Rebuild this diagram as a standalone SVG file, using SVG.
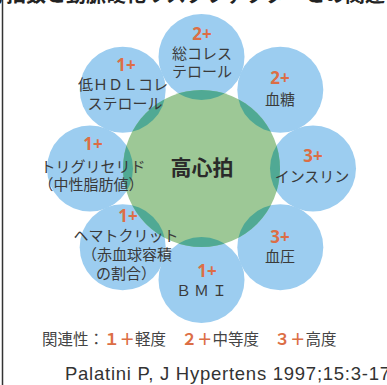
<svg xmlns="http://www.w3.org/2000/svg" width="387" height="385" viewBox="0 0 387 385">
<style>
.lbl{font-family:"Noto Sans CJK JP","Noto Sans",sans-serif;font-size:15px;fill:#3a3a3a;text-anchor:middle}
.num{font-family:"Noto Sans","Noto Sans CJK JP",sans-serif;font-size:17px;font-weight:bold;fill:#dc6e45;text-anchor:middle}
.blue{fill:#9ccdf0}
.teal{fill:#50a994}
.org{fill:#dc6e45;font-weight:bold}
</style>
<defs>
<clipPath id="cg"><circle cx="201.5" cy="168.5" r="78.5"/></clipPath>
</defs>
<rect x="0" y="0" width="387" height="385" fill="#ffffff"/>
<line x1="2.5" y1="0" x2="2.5" y2="385" stroke="#333" stroke-width="1.5"/>
<text x="385" y="2" font-family="Noto Sans CJK JP,sans-serif" font-size="20" font-weight="bold" fill="#222" text-anchor="end">心拍数と動脈硬化リスクファクターとの関連</text>

<g id="circles">
<circle class="blue" cx="201.5" cy="57" r="43"/>
<circle class="blue" cx="280.3" cy="89.7" r="43"/>
<circle class="blue" cx="313" cy="168.5" r="43"/>
<circle class="blue" cx="280.3" cy="247.3" r="43"/>
<circle class="blue" cx="201.5" cy="280" r="43"/>
<circle class="blue" cx="122.7" cy="247.3" r="43"/>
<circle class="blue" cx="90" cy="168.5" r="43"/>
<circle class="blue" cx="122.7" cy="89.7" r="43"/>
</g>
<g id="center">
<circle cx="201.5" cy="168.5" r="78.5" fill="#9dc896"/>
<g clip-path="url(#cg)">
<circle class="teal" cx="201.5" cy="57" r="43"/>
<circle class="teal" cx="280.3" cy="89.7" r="43"/>
<circle class="teal" cx="313" cy="168.5" r="43"/>
<circle class="teal" cx="280.3" cy="247.3" r="43"/>
<circle class="teal" cx="201.5" cy="280" r="43"/>
<circle class="teal" cx="122.7" cy="247.3" r="43"/>
<circle class="teal" cx="90" cy="168.5" r="43"/>
<circle class="teal" cx="122.7" cy="89.7" r="43"/>
</g>
<text x="202" y="175" font-family="Noto Sans CJK JP,sans-serif" font-size="21" font-weight="bold" fill="#2a2a2a" text-anchor="middle">高心拍</text>
</g>

<g id="n-chol">
<text class="num" x="202" y="40">2+</text>
<text class="lbl" x="202" y="59">総コレス</text>
<text class="lbl" x="202" y="77">テロール</text>
</g>
<g id="n-glu">
<text class="num" x="280" y="84">2+</text>
<text class="lbl" x="280" y="105">血糖</text>
</g>
<g id="n-ins">
<text class="num" x="313" y="162">3+</text>
<text class="lbl" x="312" y="182">インスリン</text>
</g>
<g id="n-bp">
<text class="num" x="280" y="243">3+</text>
<text class="lbl" x="280" y="262">血圧</text>
</g>
<g id="n-bmi">
<text class="num" x="207" y="277">1+</text>
<text class="lbl" x="203" y="296" letter-spacing="3">ＢＭＩ</text>
</g>
<g id="n-hct">
<text class="num" x="128" y="222">1+</text>
<text class="lbl" x="126" y="241">ヘマトクリット</text>
<text class="lbl" x="127" y="260">（赤血球容積</text>
<text class="lbl" x="126" y="279">の割合）</text>
</g>
<g id="n-tg">
<text class="num" x="93" y="150">1+</text>
<text class="lbl" x="93" y="172">トリグリセリド</text>
<text class="lbl" x="91" y="190">（中性脂肪値）</text>
</g>
<g id="n-hdl">
<text class="num" x="126" y="71">1+</text>
<text class="lbl" x="123" y="90">低ＨＤＬコレ</text>
<text class="lbl" x="125" y="109">ステロール</text>
</g>

<g id="connectors"></g>

<text x="42" y="345" font-family="Noto Sans CJK JP,sans-serif" font-size="15.5" fill="#444">関連性：<tspan class="org">１＋</tspan>軽度　<tspan class="org">２＋</tspan>中等度　<tspan class="org">３＋</tspan>高度</text>
<text x="65" y="380" font-family="Liberation Sans,Arial,sans-serif" font-size="18.5" fill="#333" textLength="325" lengthAdjust="spacing">Palatini P, J Hypertens 1997;15:3-17</text>
</svg>
